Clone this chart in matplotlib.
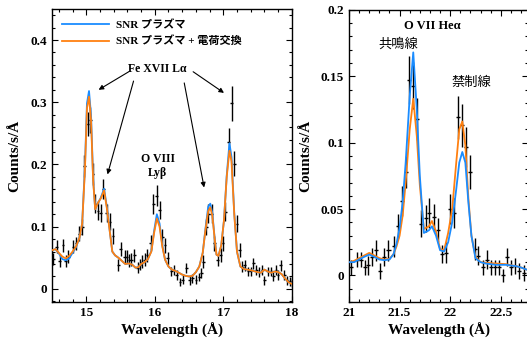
import numpy as np
import matplotlib
matplotlib.use("Agg")
import matplotlib.pyplot as plt
from matplotlib.ticker import MultipleLocator

plt.rcParams["font.family"] = ["Liberation Serif", "Noto Sans CJK JP"]
plt.rcParams["font.weight"] = "bold"
plt.rcParams["axes.labelweight"] = "bold"

BLUE = "#1a8cff"
ORANGE = "#ff8010"

# ---- Left panel: Fe XVII / O VIII region ----
left_wave = [14.52, 14.57, 14.61, 14.66, 14.70, 14.74, 14.81, 14.85, 14.90, 14.94,
             14.97, 15.02, 15.06, 15.10, 15.13, 15.17, 15.21, 15.25, 15.30, 15.34,
             15.39, 15.47, 15.50, 15.56, 15.59, 15.63, 15.66, 15.70, 15.75, 15.78,
             15.82, 15.85, 15.89, 15.94, 15.98, 16.03, 16.07, 16.11, 16.15, 16.19,
             16.24, 16.28, 16.32, 16.37, 16.41, 16.46, 16.51, 16.55, 16.60, 16.65,
             16.68, 16.71, 16.75, 16.78, 16.83, 16.87, 16.92, 16.96, 16.99, 17.03,
             17.08, 17.12, 17.16, 17.20, 17.24, 17.28, 17.31, 17.36, 17.40, 17.44,
             17.48, 17.52, 17.57, 17.60, 17.65, 17.70, 17.73, 17.77, 17.80, 17.84,
             17.89, 17.93, 17.97, 18.00]
left_counts = [0.048, 0.068, 0.045, 0.070, 0.045, 0.052, 0.068, 0.073, 0.089, 0.100,
               0.198, 0.265, 0.272, 0.185, 0.137, 0.126, 0.122, 0.160, 0.122, 0.108,
               0.085, 0.038, 0.064, 0.052, 0.052, 0.046, 0.047, 0.054, 0.034, 0.039,
               0.044, 0.047, 0.054, 0.074, 0.137, 0.150, 0.127, 0.084, 0.070, 0.049,
               0.028, 0.030, 0.022, 0.011, 0.015, 0.033, 0.014, 0.017, 0.015, 0.019,
               0.025, 0.044, 0.100, 0.121, 0.121, 0.073, 0.047, 0.054, 0.073, 0.124,
               0.236, 0.298, 0.201, 0.105, 0.062, 0.036, 0.038, 0.028, 0.028, 0.041,
               0.030, 0.027, 0.030, 0.014, 0.028, 0.028, 0.020, 0.030, 0.022, 0.038,
               0.022, 0.014, 0.012, 0.010]
left_err = [0.010, 0.011, 0.010, 0.011, 0.010, 0.010, 0.011, 0.011, 0.012, 0.013,
            0.018, 0.020, 0.021, 0.018, 0.015, 0.015, 0.014, 0.016, 0.015, 0.014,
            0.013, 0.010, 0.011, 0.010, 0.010, 0.010, 0.010, 0.010, 0.009, 0.009,
            0.010, 0.010, 0.010, 0.012, 0.016, 0.017, 0.015, 0.013, 0.012, 0.010,
            0.008, 0.008, 0.008, 0.007, 0.007, 0.008, 0.007, 0.007, 0.007, 0.007,
            0.008, 0.010, 0.013, 0.015, 0.015, 0.012, 0.010, 0.011, 0.012, 0.015,
            0.022, 0.028, 0.020, 0.014, 0.011, 0.009, 0.009, 0.008, 0.008, 0.009,
            0.008, 0.008, 0.008, 0.007, 0.008, 0.008, 0.008, 0.008, 0.008, 0.009,
            0.008, 0.007, 0.007, 0.007]

left_model_wave = [14.50, 14.55, 14.60, 14.65, 14.70, 14.75, 14.80, 14.85, 14.90, 14.94,
                   14.98, 15.01, 15.04, 15.07, 15.10, 15.13, 15.17, 15.21, 15.26, 15.30,
                   15.34, 15.38, 15.42, 15.47, 15.52, 15.57, 15.62, 15.67, 15.72, 15.76,
                   15.80, 15.85, 15.90, 15.95, 15.99, 16.03, 16.07, 16.11, 16.15, 16.20,
                   16.25, 16.30, 16.35, 16.40, 16.45, 16.50, 16.55, 16.60, 16.65, 16.70,
                   16.74, 16.78, 16.81, 16.84, 16.87, 16.90, 16.93, 16.97, 17.01, 17.05,
                   17.09, 17.12, 17.16, 17.20, 17.25, 17.30, 17.40, 17.50, 17.55, 17.60,
                   17.65, 17.70, 17.75, 17.80, 17.85, 17.90, 17.95, 18.00]
left_snr = [0.062, 0.064, 0.057, 0.048, 0.046, 0.049, 0.058, 0.067, 0.082, 0.105,
            0.195, 0.298, 0.318, 0.278, 0.178, 0.128, 0.138, 0.146, 0.161, 0.132,
            0.096, 0.060, 0.054, 0.050, 0.045, 0.040, 0.041, 0.039, 0.034, 0.035,
            0.040, 0.043, 0.048, 0.061, 0.093, 0.120, 0.105, 0.070, 0.047, 0.036,
            0.031, 0.029, 0.026, 0.023, 0.021, 0.020, 0.021, 0.027, 0.036, 0.058,
            0.097, 0.132, 0.137, 0.122, 0.086, 0.055, 0.053, 0.070, 0.110, 0.182,
            0.234, 0.212, 0.122, 0.060, 0.036, 0.032, 0.030, 0.027, 0.026, 0.031,
            0.028, 0.026, 0.028, 0.027, 0.024, 0.017, 0.011, 0.008]
left_snr_cx = [0.062, 0.064, 0.058, 0.052, 0.049, 0.053, 0.060, 0.068, 0.082, 0.105,
               0.190, 0.290, 0.309, 0.270, 0.175, 0.128, 0.138, 0.145, 0.158, 0.130,
               0.095, 0.060, 0.054, 0.050, 0.045, 0.040, 0.041, 0.039, 0.034, 0.035,
               0.040, 0.043, 0.048, 0.060, 0.090, 0.113, 0.100, 0.068, 0.047, 0.036,
               0.031, 0.029, 0.026, 0.023, 0.021, 0.020, 0.021, 0.027, 0.036, 0.058,
               0.095, 0.125, 0.131, 0.118, 0.085, 0.055, 0.053, 0.070, 0.110, 0.180,
               0.222, 0.205, 0.120, 0.060, 0.036, 0.032, 0.030, 0.027, 0.026, 0.031,
               0.028, 0.026, 0.028, 0.027, 0.024, 0.017, 0.011, 0.008]

# ---- Right panel: O VII He-alpha ----
right_wave = [21.02, 21.08, 21.115, 21.155, 21.19, 21.23, 21.27, 21.31, 21.35, 21.39,
              21.44, 21.48, 21.52, 21.56, 21.595, 21.635, 21.675, 21.715, 21.757, 21.795,
              21.84, 21.88, 21.92, 21.955, 22.00, 22.04, 22.08, 22.12, 22.16, 22.20,
              22.245, 22.275, 22.32, 22.365, 22.405, 22.44, 22.48, 22.52, 22.56, 22.60,
              22.645, 22.685, 22.73]
right_counts = [0.006, 0.012, 0.012, 0.006, 0.0075, 0.014, 0.019, 0.003, 0.014, 0.019,
                0.022, 0.037, 0.056, 0.078, 0.147, 0.143, 0.118, 0.039, 0.043, 0.047,
                0.044, 0.034, 0.016, 0.017, 0.050, 0.047, 0.119, 0.113, 0.097, 0.078,
                0.020, 0.015, 0.006, 0.012, 0.006, 0.006, 0.006, 0.000, 0.014, 0.006,
                0.007, 0.003, 0.0015]
right_err = [0.006, 0.006, 0.006, 0.006, 0.007, 0.007, 0.008, 0.006, 0.007, 0.008,
             0.008, 0.009, 0.011, 0.012, 0.018, 0.018, 0.016, 0.010, 0.010, 0.011,
             0.010, 0.009, 0.007, 0.008, 0.011, 0.011, 0.016, 0.016, 0.015, 0.013,
             0.008, 0.007, 0.006, 0.007, 0.006, 0.006, 0.006, 0.005, 0.007, 0.006,
             0.006, 0.006, 0.006]

right_model_wave = [21.00, 21.05, 21.10, 21.15, 21.20, 21.25, 21.30, 21.35, 21.40, 21.44,
                    21.47, 21.50, 21.53, 21.56, 21.60, 21.635, 21.67, 21.70, 21.74, 21.79,
                    21.82, 21.86, 21.90, 21.94, 21.98, 22.02, 22.06, 22.09, 22.12, 22.15,
                    22.18, 22.21, 22.25, 22.30, 22.35, 22.45, 22.55, 22.65, 22.70, 22.77]
right_snr = [0.010, 0.010, 0.012, 0.014, 0.0157, 0.014, 0.012, 0.0115, 0.012, 0.016,
             0.024, 0.036, 0.055, 0.085, 0.135, 0.168, 0.125, 0.075, 0.032, 0.034,
             0.037, 0.030, 0.019, 0.018, 0.025, 0.040, 0.065, 0.085, 0.093, 0.085,
             0.055, 0.030, 0.013, 0.010, 0.009, 0.008, 0.008, 0.007, 0.006, 0.004]
right_snr_cx = [0.010, 0.011, 0.013, 0.015, 0.017, 0.015, 0.013, 0.012, 0.0125, 0.016,
                0.022, 0.030, 0.045, 0.070, 0.110, 0.133, 0.105, 0.068, 0.035, 0.037,
                0.041, 0.033, 0.020, 0.019, 0.032, 0.050, 0.085, 0.110, 0.116, 0.098,
                0.058, 0.030, 0.014, 0.010, 0.0095, 0.009, 0.0085, 0.007, 0.006, 0.004]

bin_half = 0.02


def style_axes(ax, xmaj, xmin, ymaj, ymin):
    ax.xaxis.set_major_locator(MultipleLocator(xmaj))
    ax.xaxis.set_minor_locator(MultipleLocator(xmin))
    ax.yaxis.set_major_locator(MultipleLocator(ymaj))
    ax.yaxis.set_minor_locator(MultipleLocator(ymin))
    ax.tick_params(which="both", direction="in", top=True, right=True,
                   labelsize=9.5, width=0.8)
    ax.tick_params(which="major", length=4)
    ax.tick_params(which="minor", length=2)
    for s in ax.spines.values():
        s.set_linewidth(1.0)
    for lab in ax.get_xticklabels() + ax.get_yticklabels():
        lab.set_fontweight("bold")


fig = plt.figure(figsize=(5.27, 3.42), dpi=100)

# left panel
ax1 = fig.add_axes([0.0987, 0.117, 0.455, 0.857])
ax1.plot(left_model_wave, left_snr, color=BLUE, lw=1.3, label="SNR プラズマ", zorder=3)
ax1.plot(left_model_wave, left_snr_cx, color=ORANGE, lw=1.3,
         label="SNR プラズマ + 電荷交換", zorder=4)
ax1.errorbar(left_wave, left_counts, yerr=left_err, xerr=bin_half, fmt="none",
             ecolor="black", elinewidth=1.0, capsize=0, zorder=2)
ax1.set_xlim(14.5, 18.0)
ax1.set_ylim(-0.021, 0.45)
style_axes(ax1, 1, 0.2, 0.1, 0.02)
ax1.yaxis.set_major_formatter(matplotlib.ticker.FormatStrFormatter("%g"))
ax1.set_xlabel("Wavelength (Å)", fontsize=11, labelpad=3)
ax1.set_ylabel("Counts/s/Å", fontsize=11, labelpad=7)
ax1.legend(loc="upper left", frameon=False, fontsize=8, handlelength=4.2,
           borderaxespad=0.3, labelspacing=0.5, handletextpad=0.6,
           bbox_to_anchor=(0.01, 0.99))

ax1.text(16.04, 0.354, "Fe XVII Lα", ha="center", va="center", fontsize=8.5,
         fontweight="bold")
arrow_kw = dict(arrowstyle="-|>", color="black", lw=0.8, mutation_scale=7,
                shrinkA=0, shrinkB=0)
for start, end in [((15.62, 0.349), (15.18, 0.320)),
                   ((15.69, 0.334), (15.31, 0.184)),
                   ((16.43, 0.331), (16.72, 0.163)),
                   ((16.56, 0.349), (17.01, 0.315))]:
    ax1.annotate("", xy=end, xytext=start, arrowprops=arrow_kw)
ax1.text(16.04, 0.197, "O VIII\nLyβ", ha="center", va="center", fontsize=8.5,
         fontweight="bold", linespacing=1.2)

# right panel
ax2 = fig.add_axes([0.6623, 0.117, 0.3397, 0.854])
ax2.plot(right_model_wave, right_snr_cx, color=ORANGE, lw=1.3, zorder=3)
ax2.plot(right_model_wave, right_snr, color=BLUE, lw=1.3, zorder=4)
ax2.errorbar(right_wave, right_counts, yerr=right_err, xerr=bin_half, fmt="none",
             ecolor="black", elinewidth=1.0, capsize=0, zorder=2)
ax2.set_xlim(21.0, 22.77)
ax2.set_ylim(-0.02, 0.2)
style_axes(ax2, 0.5, 0.1, 0.05, 0.01)
ax2.xaxis.set_major_formatter(matplotlib.ticker.FormatStrFormatter("%g"))
ax2.yaxis.set_major_formatter(matplotlib.ticker.FormatStrFormatter("%g"))
ax2.set_xlabel("Wavelength (Å)", fontsize=11, labelpad=3)
ax2.set_ylabel("Counts/s/Å", fontsize=11, labelpad=6)
ax2.text(21.82, 0.188, "O VII Heα", ha="center", va="center", fontsize=9,
         fontweight="bold")
ax2.text(21.49, 0.174, "共鳴線", ha="center", va="center", fontsize=9.5,
         fontweight="normal")
ax2.text(22.21, 0.145, "禁制線", ha="center", va="center", fontsize=9.5,
         fontweight="normal")

fig.savefig("out.png", dpi=100)
